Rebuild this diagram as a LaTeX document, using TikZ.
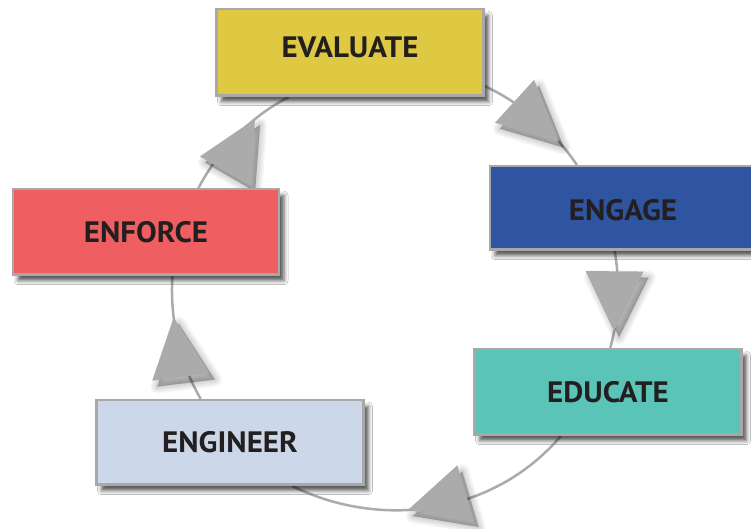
\documentclass[tikz,border=0pt]{standalone}
\usepackage{fontspec}
\setmainfont{PT Sans}[FakeStretch=1.05]
\usetikzlibrary{decorations.markings,shadows.blur,backgrounds}
\definecolor{linegray}{HTML}{ABABAB}
\definecolor{boxborder}{HTML}{A8A8A8}
\definecolor{evalcol}{HTML}{DFC842}
\definecolor{engagecol}{HTML}{2F55A0}
\definecolor{enforcecol}{HTML}{EF5F61}
\definecolor{educatecol}{HTML}{5BC4B9}
\definecolor{engineercol}{HTML}{CCD7EA}
\definecolor{txt}{HTML}{231F20}
\tikzset{
  stagebox/.style={draw=boxborder, line width=2.5pt, minimum width=267pt,
    inner sep=0pt, text=txt, text height=21pt, text depth=0pt,
    font=\fontsize{29.5}{34}\selectfont\bfseries,
    blur shadow={shadow xshift=5pt, shadow yshift=-6pt, shadow blur radius=4pt, shadow opacity=65}},
  flow/.style={draw=linegray, line width=2.5pt, looseness=0.87},
  tip/.style n args={2}{postaction={decorate, decoration={markings, mark=at position #1 with {
     \pgftransformresetnontranslations
     \foreach \w in {14,11,8,5,2}{
       \fill[black, opacity=.035, draw=black, line width=\w pt, line join=round, shift={(5pt,-6pt)}, rotate=#2] (0,0) -- (-60pt,29pt) -- (-60pt,-29pt) -- cycle;
     }
     \fill[black, opacity=.12, shift={(5pt,-6pt)}, rotate=#2] (0,0) -- (-60pt,29pt) -- (-60pt,-29pt) -- cycle;
     \fill[linegray, rotate=#2] (0,0) -- (-60pt,29pt) -- (-60pt,-29pt) -- cycle;
  }}}},
}
\begin{document}
\begin{tikzpicture}[x=1pt,y=1pt]
\useasboundingbox (0,0) rectangle (751,529);
\node[stagebox, fill=evalcol, minimum height=86.5pt] (evaluate) at (350,476.5) {\raisebox{5pt}{EVALUATE}};
\node[stagebox, fill=engagecol, minimum height=83.5pt, minimum width=266pt] (engage) at (623,321) {\raisebox{-2pt}{ENGAGE}};
\node[stagebox, fill=enforcecol, minimum height=85.5pt, minimum width=266pt] (enforce) at (146,297) {ENFORCE};
\node[stagebox, fill=educatecol, minimum height=85.5pt] (educate) at (608,137) {EDUCATE};
\node[stagebox, fill=engineercol, minimum height=84.5pt] (engineer) at (230,86.5) {ENGINEER};
\begin{pgfonlayer}{background}
\fill[white] (0,0) rectangle (751,529);
\draw[flow, tip={0.76}{-42.3}] (evaluate.-14.7) to[out=-25.2, in=123.8] (engage.137);
\draw[flow, tip={0.825}{-90.5}] (engage.259.5) to[out=-80.2, in=75.2] (educate.87.4);
\draw[flow, looseness=0.95, tip={0.594}{196.3}] (educate.223.7) to[out=-130.3, in=-26.2] (engineer.-35.2);
\draw[flow, tip={0.675}{97.1}] (engineer.124.6) to[out=119.8, in=-93.7] (enforce.-59.4);
\draw[flow, tip={0.69}{60}] (enforce.40.8) to[out=62.1, in=207.4] (evaluate.216.6);
\end{pgfonlayer}
\end{tikzpicture}
\end{document}
